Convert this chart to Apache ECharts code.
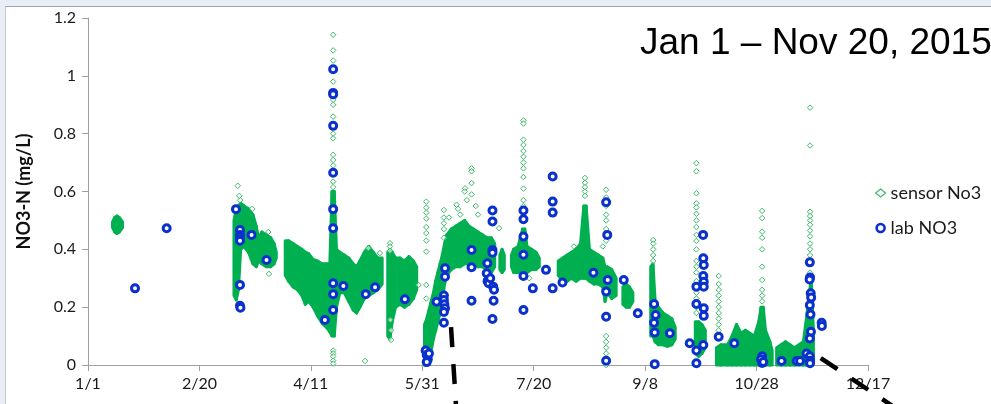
<!DOCTYPE html>
<html>
<head>
<meta charset="utf-8">
<script src="https://cdn.jsdelivr.net/npm/echarts@6/dist/echarts.min.js"></script>
<style>
html,body{margin:0;padding:0;width:991px;height:404px;overflow:hidden;background:#e9edf6;}
#panel{position:absolute;left:5px;top:6px;right:0;bottom:0;background:#fff;border-top:1px solid #9fa3ab;border-left:1px solid #c5c9d2;}
#chart{position:absolute;left:0;top:0;width:991px;height:404px;}
</style>
</head>
<body>
<div id="panel"></div>
<div id="chart"></div>
<script>
// x values are days since Jan 1, 2015
const xTickLabels = ['1/1','2/20','4/11','5/31','7/20','9/8','10/28','12/17'];
const titleText = 'Jan 1 \u2013 Nov 20, 2015';

// Sensor NO3: dense clusters as [day, low, high] envelopes
const sensorJan = [[11,0.475,0.495],[12,0.46,0.51],[13,0.455,0.515],[14,0.46,0.51],[15.5,0.475,0.495]];
const sensorMar = [[65.5,0.24,0.50],[66.5,0.225,0.54],[67.5,0.26,0.55],[68.5,0.40,0.56],[70,0.41,0.55],[72,0.39,0.54],[74,0.35,0.52],[75.5,0.34,0.48],[76.5,0.36,0.44],[78,0.35,0.46],[80,0.34,0.45],[82,0.34,0.44],[83.5,0.35,0.42],[84.5,0.37,0.39]];
const sensorApr = [[88.5,0.31,0.43],[90,0.29,0.43],[92,0.27,0.42],[94,0.26,0.41],[96,0.24,0.40],[97.5,0.21,0.39],[99,0.22,0.385],[101,0.2,0.365],[103,0.17,0.36],[105,0.145,0.35],[107,0.13,0.35],[108.5,0.115,0.35],[109.5,0.1,0.6],[110.5,0.1,0.6],[111.5,0.2,0.4],[113,0.25,0.39],[115,0.25,0.38],[117,0.22,0.37],[119,0.19,0.35],[120.5,0.18,0.34],[122,0.2,0.36],[124,0.23,0.39],[126,0.24,0.41],[128,0.25,0.39],[130,0.26,0.37],[132,0.28,0.37]];
const sensorMay = [[134.5,0.1,0.39],[135.5,0.09,0.40],[136.5,0.15,0.39],[138,0.2,0.37],[140,0.21,0.37],[142,0.2,0.36],[144,0.21,0.375],[146,0.23,0.36],[147.5,0.26,0.34]];
const sensorJun = [[151,0.0,0.14],[152,0.0,0.16],[153,0.02,0.19],[154,0.05,0.22],[155,0.09,0.25],[156,0.12,0.29],[157,0.15,0.32],[158,0.18,0.35],[159,0.22,0.38],[160,0.28,0.42],[161,0.31,0.45],[163,0.33,0.47],[165,0.34,0.48],[167,0.34,0.49],[169,0.35,0.5],[171,0.35,0.48],[173,0.35,0.47],[175,0.34,0.46],[177,0.34,0.45],[179,0.33,0.44],[181,0.32,0.44],[182.5,0.34,0.42]];
const sensorJun2 = [[184.8,0.33,0.38],[185.8,0.32,0.40],[186.8,0.33,0.38]];
const sensorJul = [[190,0.34,0.38],[191,0.32,0.40],[193,0.32,0.41],[195,0.33,0.47],[196,0.33,0.47],[197,0.32,0.41],[199,0.33,0.40],[201,0.33,0.39],[202.5,0.34,0.37]];
const sensorAug = [[211,0.31,0.36],[213,0.29,0.37],[215,0.29,0.38],[217,0.30,0.39],[219,0.29,0.40],[221,0.3,0.42],[222.5,0.3,0.55],[223.5,0.3,0.55],[225,0.29,0.40],[227,0.28,0.39],[229,0.28,0.38],[231,0.27,0.37],[232,0.22,0.34],[233,0.25,0.34],[235,0.23,0.33],[237,0.24,0.30]];
const sensorAug2 = [[240,0.21,0.27],[241.5,0.2,0.28],[243,0.2,0.27],[244.5,0.22,0.25]];
const sensorSep = [[252.5,0.1,0.34],[253.5,0.1,0.35],[254.5,0.08,0.22],[256,0.07,0.2],[258,0.07,0.18],[260,0.065,0.17],[262,0.07,0.16],[263.5,0.09,0.13]];
const sensorOct1 = [[272.5,0.04,0.15],[274,0.03,0.15],[275.5,0.04,0.14],[277,0.06,0.12]];
const sensorOct2 = [[282,0.0,0.06],[284,0.0,0.07],[287,0.0,0.07],[289,0.0,0.1],[291,0.0,0.14],[293,0.0,0.11],[295,0.0,0.12],[297,0.0,0.11],[299,0.0,0.1],[301,0.0,0.15],[302,0.0,0.2],[303,0.0,0.2],[304,0.0,0.12],[306,0.0,0.08],[307,0.0,0.05]];
const sensorNov = [[309,0.0,0.06],[311,0.0,0.07],[313,0.0,0.08],[315,0.0,0.07],[317,0.0,0.06],[319,0.0,0.07],[321,0.0,0.08],[323,0.0,0.2],[324.5,0.0,0.3],[325.5,0.02,0.12]];

// Sensor NO3: isolated readings [day, value]
const sensorPoints = [
 [67.2,0.62],[67.9,0.585],[68.3,0.57],[73.7,0.54],[80.9,0.46],[81.2,0.315],
 [110,1.142],[110,1.088],[110,1.053],[110,0.98],[110,0.917],[110,0.9],[110,0.859],[110,0.8],[110,0.784],[110,0.727],[110,0.709],[110,0.69],[110,0.634],[110,0.615],[110,0.05],[110,0.04],[110,0.03],[110,0.015],[110,0.005],
 [124.3,0.014],[125.8,0.404],[131,0.387],[135.5,0.421],[135.5,0.41],[135.5,0.395],[135.7,0.156],[136,0.12],[136,0.087],[148.3,0.277],
 [151.8,0.565],[151.8,0.544],[151.8,0.527],[151.8,0.506],[151.8,0.477],[151.8,0.456],[151.8,0.43],[151.8,0.392],[151.8,0.277],[151.8,0.23],
 [159.7,0.536],[159.7,0.51],[159.7,0.49],[159.7,0.47],[159.7,0.44],
 [172.1,0.68],[172.1,0.67],[172.1,0.629],[172.1,0.59],[169.2,0.611],[169,0.6],[165.4,0.554],[167,0.52],[166,0.54],[170,0.57],[174,0.55],[175,0.52],[184.5,0.473],[162,0.51],
 [195.4,0.846],[195.4,0.835],[195.4,0.779],[195.4,0.761],[195.4,0.74],[195.4,0.72],[195.4,0.7],[195.4,0.68],[195.4,0.65],[195.4,0.61],[195.4,0.57],[195.4,0.55],[195.4,0.51],[198,0.3],
 [218,0.41],[223,0.647],[223,0.63],[223,0.615],[223,0.6],[223,0.585],[231,0.41],
 [232.5,0.606],[232.5,0.58],[232.5,0.55],[232.5,0.52],[232.5,0.5],[232.5,0.47],[232.5,0.43],[232.5,0.1],[232.5,0.08],[232.5,0.06],[232.5,0.04],[232.5,0.02],[232.5,0.0],
 [253.6,0.432],[253.6,0.42],[253.6,0.4],[253.6,0.38],[253.6,0.36],
 [273,0.698],[273,0.67],[273,0.594],[273,0.559],[273,0.545],[273,0.523],[273,0.5],[273,0.477],[273,0.45],[273,0.429],[273,0.4],[273,0.36],[273,0.34],[273,0.32],[273,0.29],[273,0.25],[273,0.23],[273,0.2],[273,0.18],
 [283,0.308],[283,0.28],[283,0.26],[283,0.24],[283,0.22],[283,0.2],[283,0.18],[283,0.16],[283,0.14],[283,0.12],
 [302.5,0.533],[302.5,0.508],[302.5,0.461],[302.5,0.44],[302.5,0.4],[302.5,0.34],[302.5,0.294],[302.5,0.26],[302.5,0.24],[302.5,0.22],
 [324,0.89],[324,0.759],[324,0.53],[324,0.515],[324,0.5],[324,0.485],[324,0.465],[324,0.445],[324,0.42],[324,0.4],[324,0.38],[324,0.35],[324,0.32]
];

// Lab NO3 samples [day, value]
const labPoints = [
 [21.1,0.265],[35.3,0.473],
 [66.4,0.539],[68.2,0.467],[68.2,0.45],[68.2,0.44],[68.2,0.43],[68.2,0.277],[68.2,0.205],[68.4,0.198],[73.4,0.45],[80.1,0.363],
 [106.3,0.156],[110,1.023],[110,0.941],[110,0.936],[110,0.827],[110,0.665],[110,0.539],[110,0.473],[110,0.283],[110,0.245],[110,0.19],[114.6,0.273],[124.6,0.245],[128.8,0.269],[142.2,0.227],
 [151.5,0.05],[152,0.035],[152.5,0.02],[152,0.01],[153,0.04],[156.4,0.219],[160.2,0.335],[160.2,0.305],[159.7,0.24],[159.7,0.225],[159.9,0.21],[160.2,0.196],[159.7,0.183],[159.7,0.146],
 [172.1,0.398],[172.1,0.338],[172.1,0.222],[179.2,0.352],[178.9,0.317],[179.3,0.29],[179.8,0.283],[180.5,0.3],[181.8,0.271],[182.2,0.26],[181.5,0.534],[181.5,0.496],[181.5,0.398],[181.5,0.388],[182,0.222],[181.5,0.159],
 [195.4,0.534],[195.4,0.504],[195.4,0.444],[195.4,0.381],[195.4,0.308],[195.4,0.19],[199.6,0.265],[205.5,0.329],[208.5,0.652],[208.5,0.565],[208.5,0.527],[208.5,0.265],[212.9,0.285],
 [226.8,0.319],[232.5,0.563],[233,0.45],[233.2,0.294],[232.5,0.254],[232.5,0.167],[232.5,0.015],[240.4,0.294],[246.7,0.179],
 [254,0.211],[254.7,0.173],[254,0.146],[254.3,0.112],[261.1,0.11],[254.3,0.003],
 [270,0.075],[273,0.271],[273,0.211],[273,0.05],[273,0.006],[276,0.45],[276.1,0.369],[276.3,0.346],[276.1,0.308],[276.3,0.288],[276.3,0.271],[276.3,0.196],[276.3,0.17],[276.1,0.069],
 [283,0.098],[290,0.075],[302.5,0.03],[302.5,0.015],[302.5,0.007],[302,0.02],[303,0.01],[311.2,0.014],[318,0.014],[319.5,0.014],[322.4,0.04],
 [323.9,0.355],[324,0.303],[323.8,0.296],[324.3,0.248],[324.5,0.233],[323.9,0.207],[324.2,0.175],[324.4,0.115],[323.9,0.092],[323.9,0.03],[324,0.015],[324,0.006],[329.2,0.146],[329.3,0.135]
];

// Slide annotation dashed lines, endpoints in [day, value]
const annoLine1 = [[162.9,0.131],[165.3,-0.16]];
const annoLine2 = [[328.8,0.024],[364.5,-0.16]];

const sensorClusters = [sensorJan,sensorMar,sensorApr,sensorMay,sensorJun,sensorJun2,sensorJul,sensorAug,sensorAug2,sensorSep,sensorOct1,sensorOct2,sensorNov];
const bandRows = [];
sensorClusters.forEach((c, ci) => c.forEach(r => bandRows.push([ci, r[0], r[1], r[2]])));

const GREEN = '#00b050';
const BLUE = '#0b31cc';
const chart = echarts.init(document.getElementById('chart'), null, {renderer:'canvas'});

chart.setOption({
  backgroundColor: 'transparent',
  animation: false,
  grid: {left: 88, top: 18, right: 123, bottom: 39, containLabel: false},
  xAxis: {
    type: 'value', min: 0, max: 350, interval: 50,
    axisLine: {lineStyle: {color: '#a0a0a0', width: 1}},
    axisTick: {show: true, inside: false, length: 6, lineStyle: {color: '#a0a0a0'}},
    splitLine: {show: false},
    axisLabel: {margin: 11, color: '#1a1a1a', fontFamily: 'Lato', fontSize: 16,
      formatter: v => xTickLabels[Math.round(v / 50)] || ''}
  },
  yAxis: {
    type: 'value', min: 0, max: 1.2, interval: 0.2,
    name: 'NO3-N (mg/L)', nameLocation: 'middle', nameGap: 55, nameRotate: 90,
    nameTextStyle: {fontFamily: 'Lato', fontWeight: 'bold', fontSize: 18, color: '#111'},
    axisLine: {show: true, lineStyle: {color: '#a0a0a0', width: 1}},
    axisTick: {show: true, inside: false, length: 6, lineStyle: {color: '#a0a0a0'}},
    splitLine: {show: false},
    axisLabel: {margin: 12, color: '#1a1a1a', fontFamily: 'Lato', fontSize: 16,
      formatter: v => String(Math.round(v * 10) / 10)}
  },
  legend: {
    orient: 'vertical', left: 870, top: 179, itemGap: 17,
    itemWidth: 10, itemHeight: 8,
    textStyle: {fontFamily: 'Lato', fontSize: 18, color: '#1a1a1a'},
    data: [
      {name: 'sensor No3', icon: 'diamond', itemStyle: {color: '#fff', borderColor: '#3cb96a', borderWidth: 1.2}},
      {name: 'lab NO3', icon: 'circle', itemStyle: {color: '#fff', borderColor: BLUE, borderWidth: 2.6}}
    ]
  },
  series: [
    {
      name: 'sensor No3', type: 'custom', data: bandRows,
      encode: {x: 1, y: [2, 3]},
      renderItem: function (params, api) {
        const i = params.dataIndex;
        const next = bandRows[i + 1];
        const cur = bandRows[i];
        if (!next || next[0] !== cur[0]) return null;
        const a = api.coord([cur[1], cur[3]]);
        const b = api.coord([next[1], next[3]]);
        const c = api.coord([next[1], next[2]]);
        const d = api.coord([cur[1], cur[2]]);
        return {type: 'polygon', shape: {points: [a, b, c, d]},
          style: {fill: GREEN, stroke: GREEN, lineWidth: 3, lineJoin: 'round'}};
      },
      z: 2
    },
    {
      name: 'sensor No3', type: 'scatter', data: sensorPoints,
      symbol: 'diamond', symbolSize: 5.5,
      itemStyle: {color: 'rgba(255,255,255,0.6)', borderColor: '#3cb96a', borderWidth: 1, opacity: 1},
      z: 3
    },
    {
      name: 'lab NO3', type: 'scatter', data: labPoints,
      symbol: 'circle', symbolSize: 7,
      itemStyle: {color: '#fff', borderColor: BLUE, borderWidth: 3, opacity: 1},
      z: 4
    }
  ]
});

function drawOverlay() {
  const lines = [annoLine1, annoLine2].map(l => {
    const p0 = chart.convertToPixel({gridIndex: 0}, l[0]);
    const p1 = chart.convertToPixel({gridIndex: 0}, l[1]);
    return {type: 'line', shape: {x1: p0[0], y1: p0[1], x2: p1[0], y2: p1[1]},
      style: {stroke: '#000', lineWidth: 4.5, lineDash: [20, 17]}, z: 10};
  });
  chart.setOption({graphic: [
    {type: 'text', left: 640, top: 25, z: 10,
      style: {text: titleText, font: '37px "Liberation Sans", Arial, sans-serif', fill: '#000'}}
  ].concat(lines)});
}
drawOverlay();
</script>
</body>
</html>
